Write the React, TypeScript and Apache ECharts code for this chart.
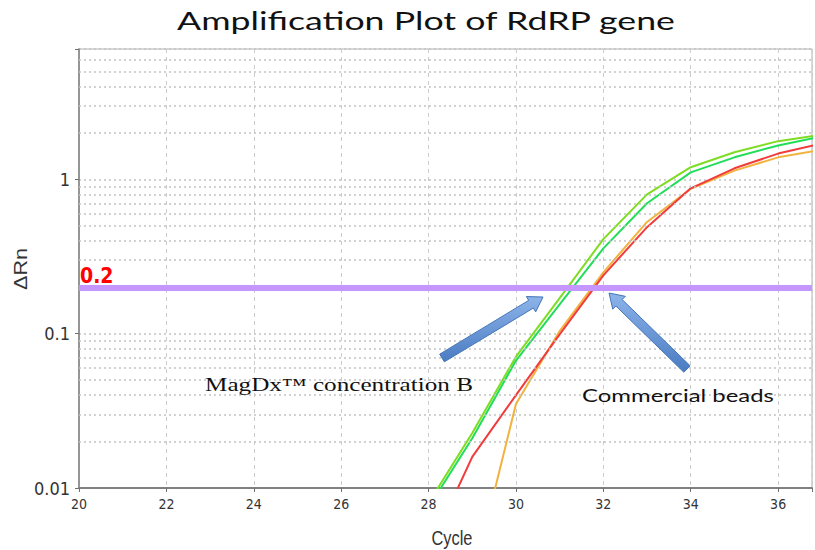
import React, { useEffect, useRef } from 'react';
import * as echarts from 'echarts';

// ---- data ----
const cycles = [28, 29, 30, 31, 32, 33, 34, 35, 36, 37];
const limeValues = [0.008, 0.0227, 0.071, 0.17, 0.41, 0.8, 1.2, 1.5, 1.77, 1.95];
const greenValues = [0.0075, 0.021, 0.067, 0.155, 0.357, 0.7, 1.11, 1.39, 1.66, 1.9];
const orangeValues = [0.0018, 0.0025, 0.035, 0.104, 0.25, 0.53, 0.87, 1.14, 1.39, 1.56];
const redValues = [0.0039, 0.0159, 0.04, 0.099, 0.239, 0.49, 0.875, 1.18, 1.47, 1.71];
const thresholdValue = 0.2;
const xTicks = [20, 22, 24, 26, 28, 30, 32, 34, 36];
const yTicks = [0.01, 0.1, 1];
const minorGridValues = [
  0.02, 0.03, 0.04, 0.05, 0.06, 0.07, 0.08, 0.09,
  0.2, 0.3, 0.4, 0.5, 0.6, 0.7, 0.8, 0.9,
  2, 3, 4, 5, 6,
];
const xMin = 20;
const xMax = 36.775;
const yMin = 0.01;
const yMax = 7;

const titleText = 'Amplification Plot of RdRP gene';
const magText = 'MagDx\u2122 concentration B';
const beadsText = 'Commercial beads';

const NARROW = "'Liberation Sans Narrow', 'DejaVu Sans Condensed', 'Arial Narrow', 'Liberation Sans', sans-serif";

function measure(text: string, font: string): number {
  const c = document.createElement('canvas');
  const ctx = c.getContext('2d');
  if (!ctx) return 1;
  ctx.font = font;
  return ctx.measureText(text).width || 1;
}

function arrowPoints(tail: number[], tip: number[], shaftW: number, headW: number, headL: number) {
  const dx = tip[0] - tail[0];
  const dy = tip[1] - tail[1];
  const len = Math.hypot(dx, dy);
  const ux = dx / len, uy = dy / len;
  const nx = -uy, ny = ux;
  const bx = tip[0] - ux * headL, by = tip[1] - uy * headL;
  return [
    [tail[0] + (nx * shaftW) / 2, tail[1] + (ny * shaftW) / 2],
    [bx + (nx * shaftW) / 2, by + (ny * shaftW) / 2],
    [bx + (nx * headW) / 2, by + (ny * headW) / 2],
    [tip[0], tip[1]],
    [bx - (nx * headW) / 2, by - (ny * headW) / 2],
    [bx - (nx * shaftW) / 2, by - (ny * shaftW) / 2],
    [tail[0] - (nx * shaftW) / 2, tail[1] - (ny * shaftW) / 2],
  ];
}

function fittedText(text: string, cx: number, cy: number, size: number, family: string, targetW: number, fill: string, rotation = 0) {
  const font = `${size}px ${family}`;
  const w = measure(text, font);
  return {
    type: 'text',
    x: cx,
    y: cy,
    rotation,
    scaleX: targetW / w,
    silent: true,
    z: 20,
    style: { text, x: 0, y: 0, font, fill, textAlign: 'center', textVerticalAlign: 'middle' },
  };
}

export default function App() {
  const ref = useRef<HTMLDivElement>(null);

  useEffect(() => {
    if (!ref.current) return;
    const chart = echarts.init(ref.current, undefined, { renderer: 'svg' });

    const line = (name: string, vals: number[], color: string, z: number) => ({
      type: 'line',
      name,
      data: cycles.map((c, i) => [c, vals[i]]),
      symbol: 'none',
      showSymbol: false,
      smooth: false,
      clip: true,
      silent: true,
      z,
      lineStyle: { color, width: 2 },
      itemStyle: { color },
    });

    const arrowStyle = {
      fill: new echarts.graphic.LinearGradient(0, 0, 0, 1, [
        { offset: 0, color: '#8db4ea' },
        { offset: 1, color: '#4a7cc2' },
      ]),
      stroke: '#4676b8',
      lineWidth: 1,
    };

    const option: any = {
      animation: false,
      backgroundColor: '#ffffff',
      grid: {
        left: 79,
        right: 0,
        top: 49,
        bottom: 62,
        show: true,
        borderColor: '#b0b0b0',
        borderWidth: 1,
        backgroundColor: 'transparent',
      },
      xAxis: {
        type: 'value',
        min: xMin,
        max: xMax,
        interval: 2,
        axisLine: { show: true, onZero: false, lineStyle: { color: '#808080', width: 2 } },
        axisTick: { show: true, length: 4, lineStyle: { color: '#707070', width: 1 } },
        axisLabel: {
          formatter: (v: number) => {
            const r = Math.round(v);
            return Math.abs(v - r) < 1e-6 && xTicks.indexOf(r) >= 0 ? String(r) : '';
          },
          fontSize: 14,
          color: '#333',
          margin: 9,
          fontFamily: NARROW,
        },
        splitLine: { show: true, lineStyle: { color: '#cccccc', type: [4, 4], width: 1 } },
      },
      yAxis: {
        type: 'log',
        logBase: 10,
        min: yMin,
        max: yMax,
        axisLine: { show: true, onZero: false, lineStyle: { color: '#808080', width: 1.5 } },
        axisTick: { show: true, length: 4, lineStyle: { color: '#707070', width: 1 } },
        axisLabel: {
          formatter: (v: number) => {
            for (const t of yTicks) {
              if (Math.abs(v - t) / t < 1e-6) return String(t);
            }
            return '';
          },
          fontSize: 18,
          color: '#333',
          margin: 9,
          fontFamily: NARROW,
        },
        splitLine: { show: true, lineStyle: { color: '#c4c4c4', type: [2, 3], width: 1.5 } },
      },
      series: [
        {
          type: 'line',
          data: [],
          silent: true,
          z: 1,
          markLine: {
            silent: true,
            animation: false,
            symbol: ['none', 'none'],
            label: { show: false },
            lineStyle: { color: '#c4c4c4', type: [2, 3], width: 1.5 },
            data: minorGridValues.map((v) => ({ yAxis: v })),
          },
        },
        line('Lime', limeValues, '#7edc22', 3),
        line('Green', greenValues, '#22dd58', 3),
        line('Orange', orangeValues, '#f2b23e', 3),
        line('Red', redValues, '#f03c3c', 3),
        {
          type: 'line',
          data: [],
          silent: true,
          z: 5,
          markLine: {
            silent: true,
            animation: false,
            symbol: ['none', 'none'],
            lineStyle: { color: '#c596ff', type: 'solid', width: 6, opacity: 1 },
            label: {
              show: true,
              position: 'insideStartTop',
              formatter: String(thresholdValue),
              color: '#ff0000',
              fontWeight: 'bold',
              fontSize: 21,
              fontFamily: NARROW,
              distance: [1, 1],
            },
            data: [{ yAxis: thresholdValue }],
          },
        },
      ],
      graphic: [
        fittedText(titleText, 426, 21, 25, "Lato, 'Open Sans', sans-serif", 500, '#111'),
        fittedText(magText, 339, 385, 18, "'Liberation Serif', serif", 268, '#111'),
        fittedText(beadsText, 678, 395, 18, "Lato, 'Open Sans', sans-serif", 192, '#111'),
        fittedText('\u0394Rn', 21, 269, 18, "'Liberation Sans', sans-serif", 42, '#333', Math.PI / 2),
        fittedText('Cycle', 452, 538, 20, "'Liberation Sans', sans-serif", 41, '#333'),
        {
          type: 'polygon',
          silent: true,
          z: 15,
          shape: { points: arrowPoints([442, 358], [543, 297], 9, 18, 14) },
          style: arrowStyle,
        },
        {
          type: 'polygon',
          silent: true,
          z: 15,
          shape: { points: arrowPoints([687, 369], [609, 293], 9, 18, 14) },
          style: arrowStyle,
        },
      ],
    };

    chart.setOption(option);
    return () => chart.dispose();
  }, []);

  return (
    <div
      ref={ref}
      style={{ position: 'absolute', left: 0, top: 0, width: 815, height: 550, background: '#fff' }}
    />
  );
}
